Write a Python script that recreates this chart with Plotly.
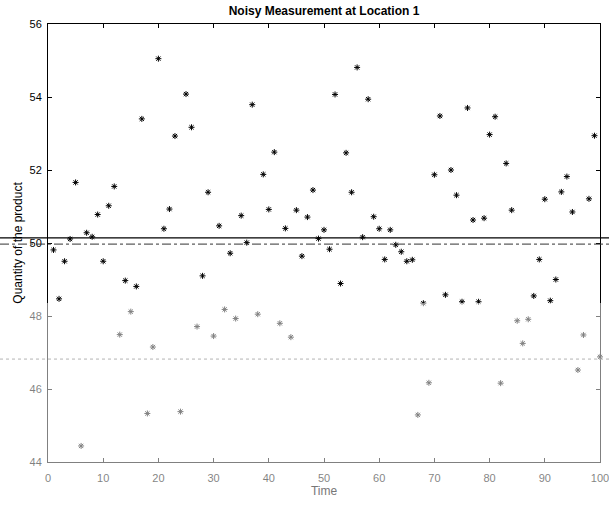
import plotly.graph_objects as go

# Sample times and noisy measured quantity
time = list(range(1, 101))
quantity = [
    49.81, 48.47, 49.50, 50.11, 51.66, 44.44, 50.28, 50.17, 50.78, 49.50,
    51.02, 51.55, 47.49, 48.97, 48.12, 48.81, 53.40, 45.33, 47.15, 55.05,
    50.39, 50.93, 52.93, 45.38, 54.08, 53.17, 47.71, 49.10, 51.39, 47.45,
    50.47, 48.18, 49.72, 47.93, 50.75, 50.01, 53.79, 48.05, 51.88, 50.92,
    52.49, 47.80, 50.40, 47.42, 50.90, 49.64, 50.71, 51.45, 50.12, 50.36,
    49.83, 54.07, 48.89, 52.47, 51.39, 54.81, 50.16, 53.94, 50.72, 50.39,
    49.55, 50.36, 49.95, 49.76, 49.50, 49.54, 45.29, 48.35, 46.17, 51.87,
    53.48, 48.58, 52.00, 51.31, 48.39, 53.70, 50.63, 48.39, 50.68, 52.97,
    53.46, 46.16, 52.18, 50.90, 47.87, 47.25, 47.91, 48.55, 49.55, 51.20,
    48.42, 49.00, 51.40, 51.82, 50.85, 46.52, 47.48, 51.21, 52.94, 46.88,
]

# Reference levels
upper_level = 50.14
centre_level = 49.97
lower_level = 46.82

x_ticks = [0, 10, 20, 30, 40, 50, 60, 70, 80, 90, 100]
y_ticks = [44, 46, 48, 50, 52, 54, 56]

W, H = 609, 508
ML, MR, MT, MB = 48, 9, 24, 46
pw = W - ML - MR
ph = H - MT - MB

fig = go.Figure()
fig.add_trace(go.Scatter(
    x=time, y=quantity, mode="markers",
    marker=dict(symbol="asterisk-open", size=5, color="black",
                line=dict(color="black", width=1)),
    showlegend=False, cliponaxis=False,
))

x0p = -ML / pw
x1p = 1 + MR / pw
fig.add_shape(type="line", xref="paper", yref="y", x0=x0p, x1=x1p,
              y0=upper_level, y1=upper_level, line=dict(color="black", width=1.2))
fig.add_shape(type="line", xref="paper", yref="y", x0=x0p, x1=x1p,
              y0=centre_level, y1=centre_level,
              line=dict(color="#333333", width=1, dash="dashdot"))
fig.add_shape(type="line", xref="paper", yref="y", x0=x0p, x1=x1p,
              y0=lower_level, y1=lower_level,
              line=dict(color="#666666", width=1, dash="dot"))

# faded lower band
fade_top = 1 - (303 - MT) / ph
fig.add_shape(type="rect", xref="paper", yref="paper", x0=x0p, x1=x1p,
              y0=-MB / ph - 0.01, y1=fade_top, layer="above",
              line=dict(width=0), fillcolor="rgba(255,255,255,0.5)")

font_family = "Liberation Sans, Arial"
axis_common = dict(
    showgrid=False, zeroline=False, showline=True, linecolor="black",
    linewidth=1, mirror="ticks", ticks="inside", ticklen=4,
    tickcolor="black", tickfont=dict(family=font_family, size=11, color="black"),
    ticklabeloverflow="allow", automargin=False,
)
fig.update_xaxes(range=[0, 100], tickvals=x_ticks, ticklabelstandoff=6,
                 title=dict(text="Time", font=dict(family=font_family, size=12, color="#777777"),
                            standoff=2),
                 **axis_common)
fig.update_yaxes(range=[44, 56], tickvals=y_ticks, ticklabelstandoff=3,
                 title=dict(text="Quantity of the product",
                            font=dict(family=font_family, size=12, color="black"),
                            standoff=4),
                 **axis_common)

fig.update_layout(
    width=W, height=H,
    margin=dict(l=ML, r=MR, t=MT, b=MB, autoexpand=False),
    paper_bgcolor="white", plot_bgcolor="white",
    title=dict(text="<b>Noisy Measurement at Location 1</b>", x=(ML + pw / 2) / W, xanchor="center",
               y=1 - 11 / H, yanchor="middle",
               font=dict(family=font_family, size=12, color="black")),
)

fig.write_html("out.html")
